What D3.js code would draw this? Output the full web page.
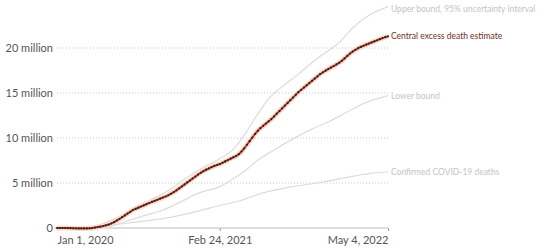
<!DOCTYPE html>
<html>
<head>
<meta charset="utf-8">
<script src="https://cdnjs.cloudflare.com/ajax/libs/d3/7.8.5/d3.min.js"></script>
<style>
  body { margin: 0; background: #fff; }
  svg { font-family: Lato, "Open Sans", sans-serif; }
</style>
</head>
<body>
<div class="chart"></div>
<script>
// weekly central estimate, millions, first week = Jan 1, 2020
var centralStart = "2020-01-01";
var centralValues = [
  0, 0, 0, 0, -0.01, -0.02, -0.03, -0.04, -0.05, -0.05,
  -0.05, -0.05, -0.03, 0.0, 0.05, 0.1, 0.15, 0.22, 0.3, 0.38,
  0.5, 0.65, 0.82, 1.0, 1.2, 1.4, 1.6, 1.8, 2.0, 2.13,
  2.26, 2.39, 2.52, 2.65, 2.78, 2.9, 3.02, 3.14, 3.26, 3.38,
  3.5, 3.64, 3.8, 3.98, 4.18, 4.4, 4.62, 4.84, 5.06, 5.28,
  5.5, 5.72, 5.94, 6.14, 6.32, 6.48, 6.62, 6.76, 6.9, 7.0,
  7.1, 7.25, 7.4, 7.55, 7.7, 7.85, 8.0, 8.2, 8.5, 8.85,
  9.25, 9.65, 10.05, 10.45, 10.8, 11.1, 11.35, 11.6, 11.85, 12.1,
  12.4, 12.7, 13.0, 13.3, 13.6, 13.9, 14.2, 14.5, 14.8, 15.1,
  15.35, 15.6, 15.85, 16.1, 16.35, 16.6, 16.85, 17.1, 17.3, 17.48,
  17.66, 17.83, 18.0, 18.17, 18.36, 18.58, 18.84, 19.12, 19.38, 19.6,
  19.8, 19.98, 20.12, 20.25, 20.38, 20.5, 20.62, 20.74, 20.86, 20.98,
  21.1, 21.2, 21.3
];

var upperDates = ["2020-01-01", "2020-03-01", "2020-04-15", "2020-06-01", "2020-07-15", "2020-09-01",
  "2020-10-15", "2020-12-01", "2021-01-15", "2021-02-24", "2021-04-01", "2021-05-01", "2021-06-01",
  "2021-07-01", "2021-08-01", "2021-09-15", "2021-11-01", "2021-12-31", "2022-02-01", "2022-03-15", "2022-05-04"];
var upperValues = [0, 0, 0.3, 1.1, 2.2, 3.2, 4.2, 5.6, 6.8, 7.7, 8.8, 10.5, 12.6, 14.4, 15.6, 17.1, 18.8, 20.7, 22.2, 23.6, 24.6];

var lowerDates = ["2020-01-01", "2020-04-01", "2020-05-15", "2020-07-01", "2020-08-15", "2020-10-01",
  "2020-11-15", "2021-01-01", "2021-02-24", "2021-04-01", "2021-05-01", "2021-06-01", "2021-07-15",
  "2021-09-01", "2021-10-15", "2021-12-01", "2022-01-15", "2022-03-01", "2022-05-04"];
var lowerValues = [0, 0, 0.15, 0.8, 1.4, 2.0, 2.9, 3.9, 4.6, 5.5, 6.4, 7.5, 8.7, 9.9, 10.9, 11.8, 12.8, 13.8, 14.7];

var confirmedDates = ["2020-01-01", "2020-03-15", "2020-04-15", "2020-06-01", "2020-08-01", "2020-10-15",
  "2021-01-01", "2021-02-24", "2021-04-15", "2021-06-15", "2021-09-01", "2021-11-15", "2022-01-15",
  "2022-03-15", "2022-05-04"];
var confirmedValues = [0, 0.01, 0.15, 0.4, 0.7, 1.15, 1.9, 2.5, 3.0, 3.9, 4.6, 5.1, 5.6, 6.05, 6.25];

var yTicks = [0, 5, 10, 15, 20];
var xTickDates = ["2020-01-01", "2021-02-24", "2022-05-04"];
var xTickLabels = ["Jan 1, 2020", "Feb 24, 2021", "May 4, 2022"];

var seriesLabels = {
  upper: "Upper bound, 95% uncertainty interval",
  central: "Central excess death estimate",
  lower: "Lower bound",
  confirmed: "Confirmed COVID-19 deaths"
};

var parseDate = d3.timeParse("%Y-%m-%d");

function pairs(dates, values) {
  return dates.map(function (d, i) { return { date: parseDate(d), value: values[i] }; });
}

var centralData = centralValues.map(function (v, i) {
  return { date: d3.timeDay.offset(parseDate(centralStart), i * 7), value: v };
});
var upperData = pairs(upperDates, upperValues);
var lowerData = pairs(lowerDates, lowerValues);
var confirmedData = pairs(confirmedDates, confirmedValues);

var svgWidth = 546;
var svgHeight = 252;

var svg = d3.select(".chart")
  .append("svg")
  .attr("width", svgWidth)
  .attr("height", svgHeight);

var xScale = d3.scaleTime()
  .domain([parseDate("2020-01-01"), parseDate("2022-05-04")])
  .range([57, 388]);

var yScale = d3.scaleLinear()
  .domain([0, 20])
  .range([228, 48]);

// gridlines + y labels
var yAxis = d3.axisLeft(yScale)
  .tickValues(yTicks)
  .tickSize(0)
  .tickPadding(3)
  .tickFormat(function (d) { return d === 0 ? "0" : d + " million"; });

var yAxisGroup = svg.append("g")
  .attr("transform", "translate(56,0)")
  .call(yAxis);
yAxisGroup.select(".domain").remove();
yAxisGroup.selectAll("text")
  .attr("fill", "#555")
  .attr("font-size", "11px")
  .attr("font-family", "Lato, sans-serif");

svg.append("g")
  .selectAll("line")
  .data(yTicks.filter(function (d) { return d > 0; }))
  .enter()
  .append("line")
  .attr("x1", 57)
  .attr("x2", 388)
  .attr("y1", function (d) { return yScale(d); })
  .attr("y2", function (d) { return yScale(d); })
  .attr("stroke", "#c8c8c8")
  .attr("stroke-width", 1)
  .attr("stroke-dasharray", "1,2");

// x axis
var xAxis = d3.axisBottom(xScale)
  .tickValues(xTickDates.map(parseDate))
  .tickSize(3)
  .tickPadding(5)
  .tickFormat(function (d, i) { return xTickLabels[i]; });

var xAxisGroup = svg.append("g")
  .attr("transform", "translate(0," + yScale(0) + ")")
  .call(xAxis);
xAxisGroup.select(".domain")
  .attr("stroke", "#bbb")
  .attr("d", "M55,0H" + xScale.range()[1]);
xAxisGroup.selectAll(".tick line").attr("stroke", "#999");
xAxisGroup.selectAll("text")
  .attr("fill", "#555")
  .attr("font-size", "11px")
  .attr("font-family", "Lato, sans-serif")
  .attr("text-anchor", function (d, i) { return i === 0 ? "start" : (i === xTickLabels.length - 1 ? "end" : "middle"); });

var line = d3.line()
  .x(function (d) { return xScale(d.date); })
  .y(function (d) { return yScale(d.value); })
  .curve(d3.curveMonotoneX);

// gray reference lines
[upperData, lowerData, confirmedData].forEach(function (data) {
  svg.append("path")
    .datum(data)
    .attr("fill", "none")
    .attr("stroke", "#dcdcdc")
    .attr("stroke-width", 1.2)
    .attr("d", line);
});

// central estimate: halo, line, dots
svg.append("path")
  .datum(centralData)
  .attr("fill", "none")
  .attr("stroke", "#f7d9cd")
  .attr("stroke-width", 5)
  .attr("stroke-linejoin", "round")
  .attr("d", line);

svg.append("path")
  .datum(centralData)
  .attr("fill", "none")
  .attr("stroke", "#a0402a")
  .attr("stroke-width", 1.8)
  .attr("d", line);

svg.append("g")
  .selectAll("circle")
  .data(centralData)
  .enter()
  .append("circle")
  .attr("cx", function (d) { return xScale(d.date); })
  .attr("cy", function (d) { return yScale(d.value); })
  .attr("r", 1.1)
  .attr("fill", "#3d1a12");

// end labels
var labelData = [
  { text: seriesLabels.upper, value: upperValues[upperValues.length - 1], color: "#c4c4c4" },
  { text: seriesLabels.central, value: centralValues[centralValues.length - 1], color: "#6e2d1e" },
  { text: seriesLabels.lower, value: lowerValues[lowerValues.length - 1], color: "#c4c4c4" },
  { text: seriesLabels.confirmed, value: confirmedValues[confirmedValues.length - 1], color: "#c4c4c4" }
];

svg.append("g")
  .selectAll("text")
  .data(labelData)
  .enter()
  .append("text")
  .attr("x", 391)
  .attr("y", function (d) { return Math.max(yScale(d.value), 9); })
  .attr("dy", "0.35em")
  .attr("font-size", "8.5px")
  .attr("font-family", "Lato, sans-serif")
  .attr("fill", function (d) { return d.color; })
  .text(function (d) { return d.text; });
</script>
</body>
</html>
